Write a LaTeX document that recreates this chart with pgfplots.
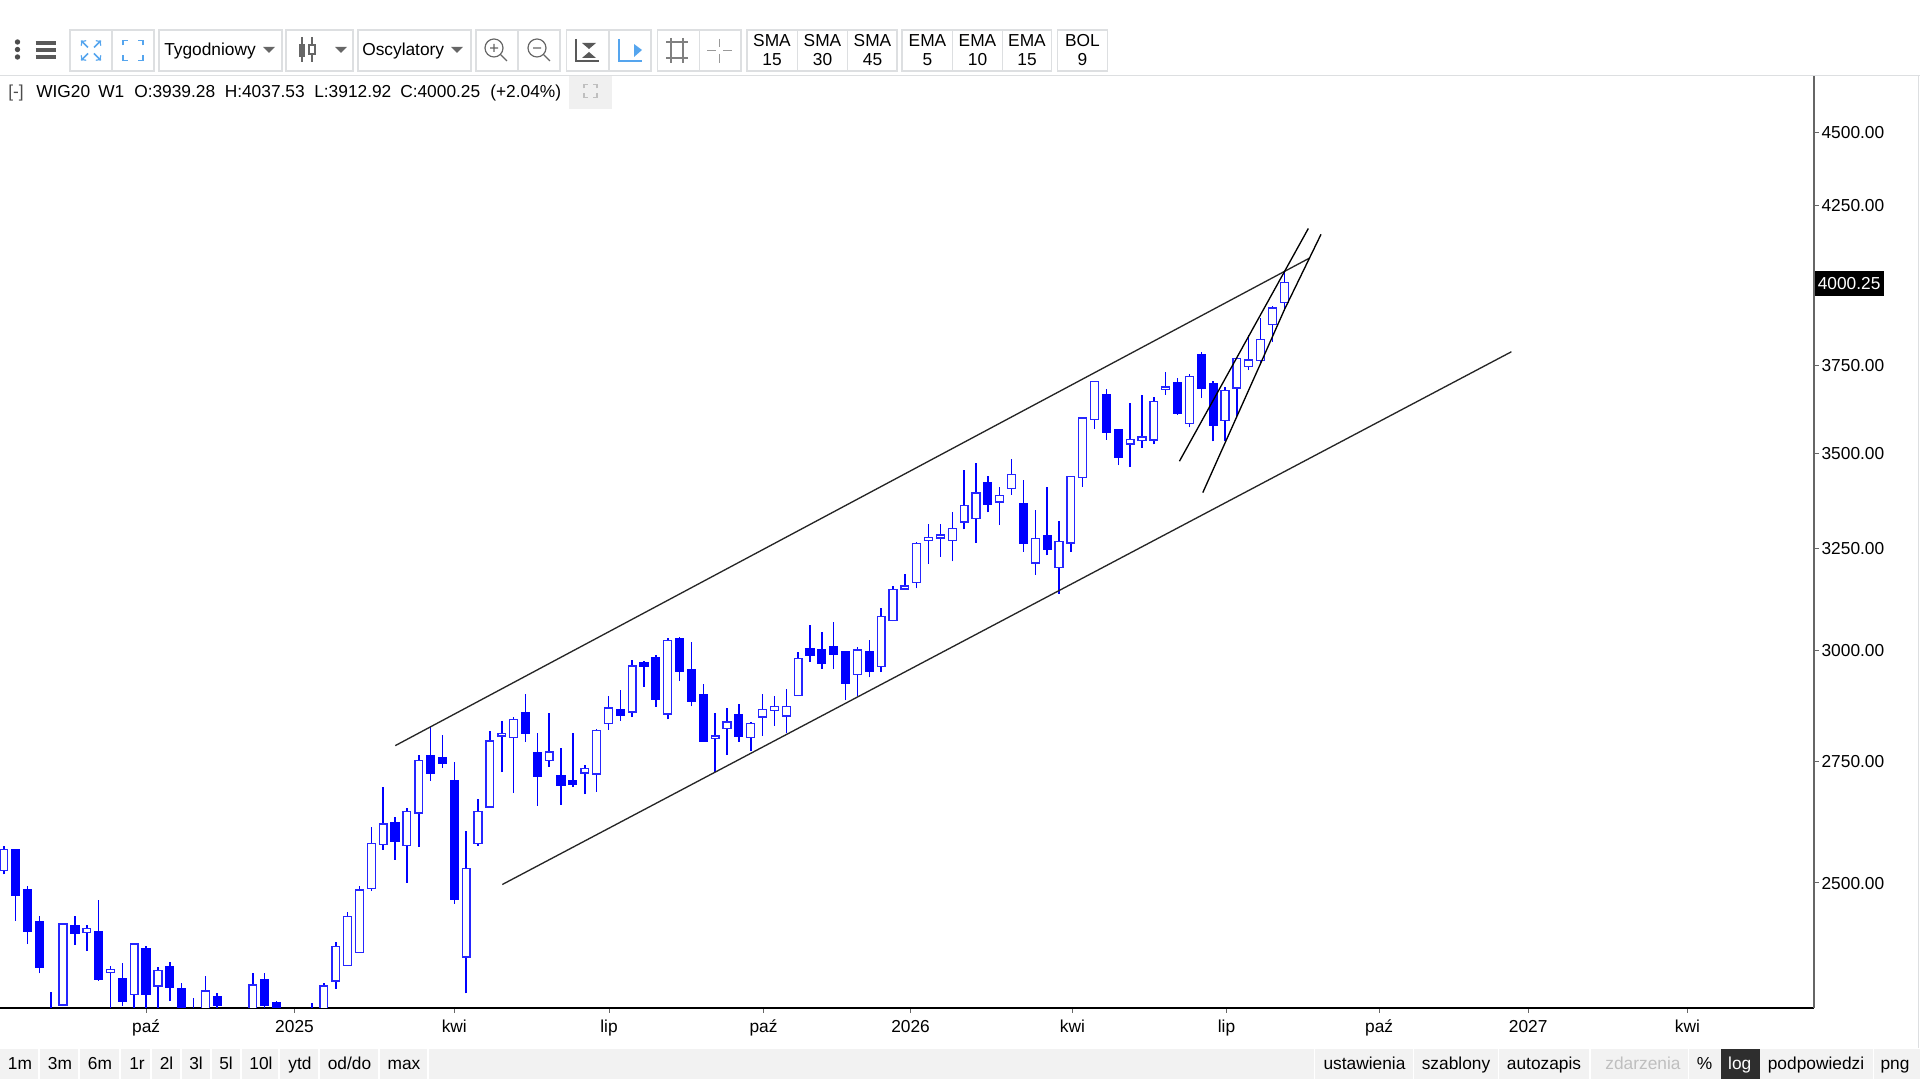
\documentclass[border=0pt]{standalone}
\usepackage{pgfplots}
\pgfplotsset{compat=1.18}
\usepackage{fontspec}
\setmainfont{Liberation Sans}
\definecolor{btn}{HTML}{DDDFE1}
\definecolor{ico}{HTML}{55A5EE}
\definecolor{bar}{HTML}{F2F2F2}
\definecolor{cblue}{RGB}{0,0,255}
\definecolor{icg}{HTML}{777777}
\pgfplotsset{
 cw/.style={cblue,line width=1.15pt},
 cu/.style={draw=cblue!85!white,fill=white,line width=1pt},
 cd/.style={draw=cblue,fill=cblue,line width=1pt},
 tl/.style={black!85,line width=1pt},
}
\newcommand\cdl[5]{%
 \pgfmathsetmacro\xl{#1-0.33}\pgfmathsetmacro\xr{#1+0.33}%
 \addplot[cw] coordinates {(#1,#4) (#1,#3)};%
 \ifdim #5pt<#2pt \def\st{cd}\else \def\st{cu}\fi
 \edef\tmp{\noexpand\addplot[\st] coordinates {(\xl,#2) (\xr,#2) (\xr,#5) (\xl,#5)} --cycle;}\tmp}
\newcommand\sz{\fontsize{13}{15}\selectfont}
\begin{document}
\begin{tikzpicture}[every node/.style={font=\sz,inner sep=0pt}]
\path[use as bounding box] (0,0) rectangle (1440pt,810pt);
\begin{axis}[
 at={(0pt,54pt)},anchor=south west,scale only axis,width=1360.5pt,height=699pt,
 ymode=log,xmin=-0.32,xmax=152.68,ymin=2267,ymax=4704,
 axis x line=bottom,axis y line=right,axis line style={-},
 x axis line style={black,line width=1.5pt},
 y axis line style={black!60,line width=1pt},
 xtick={12.01,24.52,38,51.05,64.08,76.48,90.14,103.13,116,128.57,142},
 xticklabels={paź,2025,kwi,lip,paź,2026,kwi,lip,paź,2027,kwi},
 ytick={2500,2750,3000,3250,3500,3750,4000,4250,4500},
 yticklabels={2500.00,2750.00,3000.00,3250.00,3500.00,3750.00,,4250.00,4500.00},
 yminorticks=false,xminorticks=false,tick align=outside,
 major tick length=3.5pt,
 tick style={black!60,line width=.7pt},
 ticklabel style={font=\sz},
 yticklabel style={anchor=west,xshift=2pt,yshift=-0.4pt},
 xticklabel style={anchor=center,yshift=-10.3pt,text height=9.3pt,text depth=0pt},
 clip=true,
]
\cdl{0}{2524}{2573}{2517}{2567}
\cdl{1}{2567}{2568}{2427}{2475}
\cdl{2}{2487}{2494}{2383}{2408}
\cdl{3}{2426}{2437}{2329}{2340}
\cdl{4}{2240}{2296}{2220}{2255}
\cdl{5}{2272}{2421}{2271}{2421}
\cdl{6}{2418}{2437}{2382}{2403}
\cdl{7}{2405}{2419}{2370}{2413}
\cdl{8}{2407}{2467}{2316}{2318}
\cdl{9}{2331}{2343}{2250}{2336}
\cdl{10}{2320}{2348}{2271}{2279}
\cdl{11}{2291}{2386}{2250}{2383}
\cdl{12}{2374}{2380}{2250}{2291}
\cdl{13}{2306}{2340}{2250}{2334}
\cdl{14}{2341}{2349}{2279}{2303}
\cdl{15}{2301}{2311}{2240}{2255}
\cdl{16}{2240}{2284}{2230}{2255}
\cdl{17}{2255}{2324}{2240}{2297}
\cdl{18}{2287}{2293}{2250}{2271}
\cdl{21}{2255}{2329}{2240}{2308}
\cdl{22}{2318}{2329}{2255}{2271}
\cdl{23}{2276}{2280}{2250}{2260}
\cdl{26}{2240}{2275}{2230}{2255}
\cdl{27}{2255}{2312}{2240}{2306}
\cdl{28}{2315}{2387}{2301}{2378}
\cdl{29}{2344}{2443}{2343}{2435}
\cdl{30}{2368}{2494}{2368}{2486}
\cdl{31}{2489}{2612}{2485}{2578}
\cdl{32}{2577}{2695}{2566}{2618}
\cdl{33}{2620}{2632}{2546}{2582}
\cdl{34}{2574}{2651}{2500}{2644}
\cdl{35}{2641}{2763}{2572}{2752}
\cdl{36}{2761}{2827}{2708}{2725}
\cdl{37}{2758}{2808}{2736}{2746}
\cdl{38}{2708}{2749}{2460}{2469}
\cdl{39}{2359}{2604}{2293}{2528}
\cdl{40}{2578}{2669}{2574}{2644}
\cdl{41}{2653}{2815}{2653}{2794}
\cdl{42}{2805}{2839}{2727}{2811}
\cdl{43}{2802}{2846}{2682}{2842}
\cdl{44}{2856}{2898}{2792}{2810}
\cdl{45}{2768}{2812}{2656}{2717}
\cdl{46}{2751}{2857}{2738}{2770}
\cdl{47}{2719}{2778}{2658}{2699}
\cdl{48}{2708}{2811}{2695}{2700}
\cdl{49}{2725}{2741}{2680}{2734}
\cdl{50}{2723}{2821}{2685}{2817}
\cdl{51}{2833}{2895}{2819}{2867}
\cdl{52}{2864}{2909}{2839}{2851}
\cdl{53}{2858}{2976}{2847}{2963}
\cdl{54}{2972}{2975}{2915}{2962}
\cdl{55}{2982}{2988}{2870}{2886}
\cdl{56}{2854}{3028}{2842}{3022}
\cdl{57}{3027}{3031}{2929}{2951}
\cdl{58}{2955}{3019}{2871}{2883}
\cdl{59}{2898}{2922}{2792}{2793}
\cdl{60}{2799}{2857}{2726}{2805}
\cdl{61}{2821}{2868}{2763}{2836}
\cdl{62}{2853}{2877}{2792}{2804}
\cdl{63}{2802}{2835}{2773}{2833}
\cdl{64}{2847}{2898}{2805}{2864}
\cdl{65}{2861}{2895}{2827}{2871}
\cdl{66}{2849}{2911}{2811}{2871}
\cdl{67}{2895}{2995}{2895}{2980}
\cdl{68}{3003}{3060}{2973}{2988}
\cdl{69}{3000}{3044}{2956}{2970}
\cdl{70}{3009}{3066}{2956}{2990}
\cdl{71}{2997}{2999}{2885}{2922}
\cdl{72}{2943}{3008}{2894}{3000}
\cdl{73}{2997}{3023}{2937}{2951}
\cdl{74}{2962}{3100}{2949}{3080}
\cdl{75}{3070}{3154}{3069}{3146}
\cdl{76}{3147}{3185}{3145}{3155}
\cdl{77}{3163}{3266}{3149}{3261}
\cdl{78}{3270}{3312}{3209}{3277}
\cdl{79}{3276}{3312}{3228}{3283}
\cdl{80}{3270}{3342}{3216}{3300}
\cdl{81}{3317}{3455}{3298}{3360}
\cdl{82}{3326}{3475}{3263}{3393}
\cdl{83}{3420}{3438}{3342}{3362}
\cdl{84}{3369}{3409}{3309}{3386}
\cdl{85}{3405}{3485}{3388}{3443}
\cdl{86}{3364}{3429}{3240}{3263}
\cdl{87}{3212}{3349}{3183}{3274}
\cdl{88}{3281}{3409}{3231}{3246}
\cdl{89}{3200}{3320}{3136}{3267}
\cdl{90}{3263}{3438}{3240}{3437}
\cdl{91}{3435}{3600}{3410}{3599}
\cdl{92}{3594}{3703}{3568}{3702}
\cdl{93}{3666}{3680}{3537}{3558}
\cdl{94}{3567}{3568}{3468}{3489}
\cdl{95}{3526}{3641}{3464}{3538}
\cdl{96}{3536}{3665}{3515}{3545}
\cdl{97}{3537}{3658}{3525}{3645}
\cdl{98}{3679}{3729}{3665}{3687}
\cdl{99}{3699}{3714}{3607}{3611}
\cdl{100}{3583}{3726}{3572}{3717}
\cdl{101}{3783}{3788}{3655}{3682}
\cdl{102}{3696}{3705}{3533}{3577}
\cdl{103}{3591}{3687}{3534}{3677}
\cdl{104}{3684}{3773}{3605}{3771}
\cdl{105}{3747}{3841}{3736}{3766}
\cdl{106}{3765}{3891}{3756}{3827}
\cdl{107}{3871}{3929}{3820}{3923}
\cdl{108}{3939.28}{4037.53}{3912.92}{4000.25}
\addplot[tl] coordinates {(33.02,2784) (110.11,4078)};
\addplot[tl] coordinates {(42.05,2497) (127.16,3790)};
\addplot[tl,black] coordinates {(99.16,3479) (110.03,4174)};
\addplot[tl,black] coordinates {(101.13,3394) (106.01,3756) (108.01,3917) (111.1,4155)};
\end{axis}
\begin{scope}[shift={(0pt,810pt)},x=.75pt,y=-.75pt]
% header rule and price badge
\draw[btn,line width=.75pt] (0,75.5)--(1920,75.5);
\draw[btn,line width=.75pt] (1918,76)--(1918,1048);
\fill[black] (1815,271) rectangle (1884,296);
\node[anchor=west,text=white] at (1817.5,283.5) {4000.25};
% toolbar
\foreach \yy in {42,49.5,57} \fill[black!70] (17.5,\yy) circle (2.7);
\foreach \yy in {43,50,57} \draw[black!65,line width=2.4pt] (35.5,\yy)--(56,\yy);
\foreach \a/\b in {70/154,159/282,286/353,358/471,476/560,566.5/651,657.5/741,747/897,902/1051.4,1057.5/1107.8}
  \draw[btn,line width=.9pt] (\a,30) rectangle (\b,71);
\foreach \s in {112,518,609,699.6,797.5,847.3,952.7,1002.4}
  \draw[btn,line width=.9pt] (\s,30)--(\s,71);
% expand icons
\begin{scope}[ico,line width=1.1pt]
\foreach \sx/\sy in {1/1,-1/1,1/-1,-1/-1}{
 \draw[shift={(91,50.5)},->,>=to] (\sx*3,\sy*3)--(\sx*10,\sy*10);
 \draw[shift={(133,50.5)}] (\sx*10,\sy*5)--(\sx*10,\sy*10)--(\sx*5,\sy*10);
}
\end{scope}
\node[anchor=base west] at (164,56) {Tygodniowy};
\fill[black!60] (263,47)--(275,47)--(269,53)--cycle;
\node[anchor=base west] at (362,56) {Oscylatory};
\fill[black!60] (451,47)--(463,47)--(457,53)--cycle;
\fill[black!60] (335,47)--(347,47)--(341,53)--cycle;
% candle icon
\draw[black!60,line width=1pt] (302,37)--(302,62) (312,37)--(312,62);
\fill[black!60] (299,44) rectangle (305,57);
\draw[black!60,fill=white,line width=1pt] (309,45) rectangle (315,54);
% zoom icons
\draw[black!60,line width=.9pt] (494,48) circle (9) (501,55)--(507,61) (490,48)--(498,48) (494,44)--(494,52);
\draw[black!60,line width=.9pt] (537,48) circle (9) (544,55)--(550,61) (533,48)--(541,48);
% fit icons
\draw[black!65,line width=.9pt] (576,39)--(576,61)--(599,61);
\fill[black!65] (582,43)--(596,43)--(589,49)--cycle (582,58)--(596,58)--(589,52)--cycle;
\draw[ico,line width=1.1pt] (619,39)--(619,61)--(642,61);
\fill[ico] (634,44)--(642,50)--(634,57)--cycle;
% grid icons
\draw[black!50,line width=1pt] (666,42)--(688,42) (666,58)--(688,58) (671,38)--(671,63) (683,38)--(683,63);
\draw[black!40,line width=1pt] (707,50.5)--(716,50.5) (723,50.5)--(732,50.5) (719.5,39)--(719.5,47) (719.5,54)--(719.5,63);
% indicator buttons
\foreach \c/\t/\n in {772/SMA/15,822.5/SMA/30,872.5/SMA/45,927.5/EMA/5,977.5/EMA/10,1027/EMA/15,1082.5/BOL/9}{
 \node at (\c,41) {\t};
 \node at (\c,60) {\n};
}
% info line
\node[anchor=base west,text=black!70] at (8,97.5) {[-]};
\node[anchor=base west] at (36,97.5) {WIG20};
\node[anchor=base west] at (98,97.5) {W1};
\node[anchor=base west] at (134,97.5) {O:3939.28};
\node[anchor=base west] at (224.5,97.5) {H:4037.53};
\node[anchor=base west] at (314,97.5) {L:3912.92};
\node[anchor=base west] at (400,97.5) {C:4000.25};
\node[anchor=base west] at (490,97.5) {(+2.04\%)};
\fill[black!6] (569,76) rectangle (611.5,108.6);
\begin{scope}[black!25,line width=1.2pt]
\foreach \sx/\sy in {1/1,-1/1,1/-1,-1/-1}
 \draw[shift={(590.5,91)}] (\sx*6.5,\sy*2.5)--(\sx*6.5,\sy*6.5)--(\sx*2.5,\sy*6.5);
\end{scope}
% bottom bar
\fill[bar] (0,1049) rectangle (1920,1079);
\foreach \s in {39,79,120,151,181,211,241,279,319,379,428,1314.6,1413.5,1498.5,1590,1688.3,1873.4}
 \draw[white,line width=.9pt] (\s,1049)--(\s,1079);
\fill[black!82] (1721,1049) rectangle (1759.5,1079);
\foreach \c/\t in {20/1m,60/3m,100/6m,137/1r,166.5/2l,196/3l,226/5l,261/10l,300/ytd,349.5/od\slash do,404/max,1364.5/ustawienia,1456/szablony,1544/autozapis,1704.5/\%,1816/podpowiedzi,1895/png}
 \node[anchor=base] at (\c,1070) {\t};
\node[anchor=base,text=black!25] at (1643,1070) {zdarzenia};
\node[anchor=base,text=white] at (1739.7,1070) {log};
\end{scope}
\end{tikzpicture}
\end{document}
